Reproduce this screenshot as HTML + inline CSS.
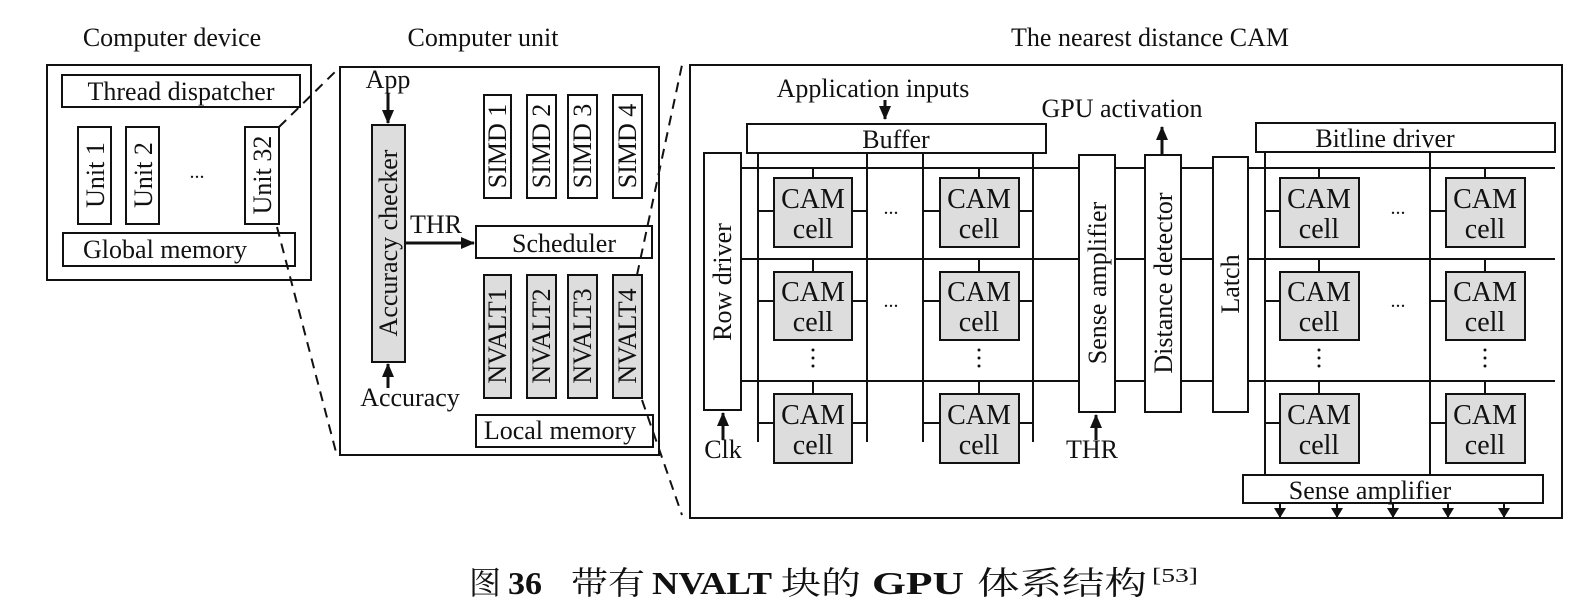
<!DOCTYPE html>
<html><head><meta charset="utf-8"><style>
html,body{margin:0;padding:0;background:#fff;}
svg{display:block;}
text{font-family:"Liberation Serif","Noto Serif CJK SC",serif;fill:#111;}
</style></head><body>
<svg width="1590" height="610" viewBox="0 0 1590 610" xmlns="http://www.w3.org/2000/svg">
<defs>
<marker id="ah" markerWidth="10" markerHeight="12" refX="9" refY="6" orient="auto" markerUnits="userSpaceOnUse"><path d="M0,0 L10,6 L0,12 z" fill="#111"/></marker>
<marker id="ah2" markerWidth="14" markerHeight="14" refX="13" refY="7" orient="auto" markerUnits="userSpaceOnUse"><path d="M0,1 L14,7 L0,13 z" fill="#111"/></marker>
</defs>
<g stroke="#111" stroke-width="2" fill="none">
<rect x="47" y="65" width="264" height="215"/>
<rect x="62" y="75" width="238" height="32"/>
<rect x="78" y="127" width="33" height="97"/>
<rect x="126" y="127" width="33" height="97"/>
<rect x="245" y="127" width="34" height="97"/>
<rect x="63" y="233" width="232" height="33"/>
<line x1="279" y1="127" x2="340" y2="67" stroke-dasharray="10,7"/>
<line x1="277" y1="227" x2="336" y2="452" stroke-dasharray="10,7"/>
<line x1="637" y1="275" x2="682" y2="65" stroke-dasharray="10,7"/>
<line x1="642" y1="400" x2="682" y2="515" stroke-dasharray="10,7"/>
<rect x="340" y="67" width="319" height="388"/>
<rect x="372" y="125" width="33" height="237" fill="#ddd"/>
<rect x="476" y="226" width="176" height="32"/>
<rect x="476" y="415" width="177" height="32"/>
<rect x="484" y="95" width="27" height="103"/>
<rect x="527" y="95" width="29" height="103"/>
<rect x="568" y="95" width="29" height="103"/>
<rect x="613" y="95" width="29" height="103"/>
<rect x="484" y="275" width="27" height="123" fill="#ddd"/>
<rect x="527" y="275" width="29" height="123" fill="#ddd"/>
<rect x="568" y="275" width="29" height="123" fill="#ddd"/>
<rect x="613" y="275" width="29" height="123" fill="#ddd"/>
<line x1="388" y1="93" x2="388" y2="123" marker-end="url(#ah2)" stroke-width="3"/>
<line x1="388" y1="388" x2="388" y2="364" marker-end="url(#ah2)" stroke-width="3"/>
<line x1="405" y1="243" x2="474" y2="243" marker-end="url(#ah2)" stroke-width="3"/>
<rect x="690" y="65" width="872" height="453"/>
<rect x="747" y="124" width="299" height="29"/>
<rect x="704" y="153" width="37" height="257"/>
<rect x="1079" y="155" width="36" height="257"/>
<rect x="1145" y="155" width="36" height="257"/>
<rect x="1213" y="157" width="35" height="255"/>
<rect x="1256" y="123" width="299" height="29"/>
<rect x="1243" y="475" width="300" height="28"/>
<line x1="885" y1="100" x2="885" y2="119" marker-end="url(#ah2)" stroke-width="3"/>
<line x1="723" y1="440" x2="723" y2="413" marker-end="url(#ah2)" stroke-width="3"/>
<line x1="1096" y1="440" x2="1096" y2="415" marker-end="url(#ah2)" stroke-width="3"/>
<line x1="1162" y1="155" x2="1162" y2="127" marker-end="url(#ah2)" stroke-width="3"/>
<g>
<line x1="741" y1="168" x2="1079" y2="168"/><line x1="1115" y1="168" x2="1145" y2="168"/><line x1="1181" y1="168" x2="1213" y2="168"/><line x1="1248" y1="168" x2="1555" y2="168"/>
<line x1="741" y1="259" x2="1079" y2="259"/><line x1="1115" y1="259" x2="1145" y2="259"/><line x1="1181" y1="259" x2="1213" y2="259"/><line x1="1248" y1="259" x2="1555" y2="259"/>
<line x1="741" y1="381" x2="1079" y2="381"/><line x1="1115" y1="381" x2="1145" y2="381"/><line x1="1181" y1="381" x2="1213" y2="381"/><line x1="1248" y1="381" x2="1555" y2="381"/>
</g>
<line x1="758" y1="153" x2="758" y2="442"/><line x1="867" y1="153" x2="867" y2="442"/>
<line x1="923" y1="153" x2="923" y2="442"/><line x1="1033" y1="153" x2="1033" y2="442"/>
<line x1="1265" y1="152" x2="1265" y2="475"/><line x1="1430" y1="152" x2="1430" y2="475"/>
<g fill="#ddd">
<rect x="774" y="178" width="78" height="69"/><rect x="940" y="178" width="79" height="69"/>
<rect x="774" y="272" width="78" height="68"/><rect x="940" y="272" width="79" height="68"/>
<rect x="774" y="394" width="78" height="69"/><rect x="940" y="394" width="79" height="69"/>
<rect x="1280" y="178" width="79" height="69"/><rect x="1446" y="178" width="79" height="69"/>
<rect x="1280" y="272" width="79" height="68"/><rect x="1446" y="272" width="79" height="68"/>
<rect x="1280" y="394" width="79" height="69"/><rect x="1446" y="394" width="79" height="69"/>
</g>
<g>
<line x1="813" y1="168" x2="813" y2="178"/><line x1="979" y1="168" x2="979" y2="178"/>
<line x1="813" y1="259" x2="813" y2="272"/><line x1="979" y1="259" x2="979" y2="272"/>
<line x1="813" y1="381" x2="813" y2="394"/><line x1="979" y1="381" x2="979" y2="394"/>
<line x1="1319" y1="168" x2="1319" y2="178"/><line x1="1485" y1="168" x2="1485" y2="178"/>
<line x1="1319" y1="259" x2="1319" y2="272"/><line x1="1485" y1="259" x2="1485" y2="272"/>
<line x1="1319" y1="381" x2="1319" y2="394"/><line x1="1485" y1="381" x2="1485" y2="394"/>
<line x1="758" y1="211" x2="774" y2="211"/><line x1="852" y1="211" x2="867" y2="211"/>
<line x1="923" y1="211" x2="940" y2="211"/><line x1="1019" y1="211" x2="1033" y2="211"/>
<line x1="758" y1="301" x2="774" y2="301"/><line x1="852" y1="301" x2="867" y2="301"/>
<line x1="923" y1="301" x2="940" y2="301"/><line x1="1019" y1="301" x2="1033" y2="301"/>
<line x1="758" y1="423" x2="774" y2="423"/><line x1="852" y1="423" x2="867" y2="423"/>
<line x1="923" y1="423" x2="940" y2="423"/><line x1="1019" y1="423" x2="1033" y2="423"/>
<line x1="1265" y1="211" x2="1280" y2="211"/><line x1="1430" y1="211" x2="1446" y2="211"/>
<line x1="1265" y1="301" x2="1280" y2="301"/><line x1="1430" y1="301" x2="1446" y2="301"/>
<line x1="1265" y1="423" x2="1280" y2="423"/><line x1="1430" y1="423" x2="1446" y2="423"/>
</g>
<g stroke-width="2">
<line x1="1280" y1="503" x2="1280" y2="517" marker-end="url(#ah)"/>
<line x1="1337" y1="503" x2="1337" y2="517" marker-end="url(#ah)"/>
<line x1="1393" y1="503" x2="1393" y2="517" marker-end="url(#ah)"/>
<line x1="1448" y1="503" x2="1448" y2="517" marker-end="url(#ah)"/>
<line x1="1504" y1="503" x2="1504" y2="517" marker-end="url(#ah)"/>
</g>
</g>
<g font-size="26" text-anchor="middle">
<text x="172" y="46">Computer device</text>
<text x="483" y="46">Computer unit</text>
<text x="1150" y="46">The nearest distance CAM</text>
<text x="181" y="100">Thread dispatcher</text>
<text x="165" y="258">Global memory</text>
<text x="197" y="178" font-size="20">...</text>
<text transform="translate(104,175) rotate(-90)">Unit 1</text>
<text transform="translate(152,175) rotate(-90)">Unit 2</text>
<text transform="translate(271,175) rotate(-90)">Unit 32</text>
<text x="388" y="88">App</text>
<text x="410" y="406">Accuracy</text>
<text x="436" y="233">THR</text>
<text x="564" y="252">Scheduler</text>
<text x="560" y="439">Local memory</text>
<text transform="translate(397,243) rotate(-90)">Accuracy checker</text>
<text transform="translate(506,146) rotate(-90)">SIMD 1</text>
<text transform="translate(550,146) rotate(-90)">SIMD 2</text>
<text transform="translate(591,146) rotate(-90)">SIMD 3</text>
<text transform="translate(636,146) rotate(-90)">SIMD 4</text>
<text transform="translate(506,336) rotate(-90)">NVALT1</text>
<text transform="translate(550,336) rotate(-90)">NVALT2</text>
<text transform="translate(591,336) rotate(-90)">NVALT3</text>
<text transform="translate(636,336) rotate(-90)">NVALT4</text>
<text x="873" y="97">Application inputs</text>
<text x="1122" y="117">GPU activation</text>
<text x="896" y="148">Buffer</text>
<text x="1385" y="147">Bitline  driver</text>
<text x="1370" y="499">Sense amplifier</text>
<text x="723" y="458">Clk</text>
<text x="1092" y="458">THR</text>
<text transform="translate(731,282) rotate(-90)">Row driver</text>
<text transform="translate(1106,283) rotate(-90)">Sense amplifier</text>
<text transform="translate(1172,283) rotate(-90)">Distance detector</text>
<text transform="translate(1239,284) rotate(-90)">Latch</text>
</g>
<g font-size="28" text-anchor="middle">
<text x="813" y="208">CAM</text><text x="813" y="238">cell</text>
<text x="979" y="208">CAM</text><text x="979" y="238">cell</text>
<text x="813" y="301">CAM</text><text x="813" y="331">cell</text>
<text x="979" y="301">CAM</text><text x="979" y="331">cell</text>
<text x="813" y="424">CAM</text><text x="813" y="454">cell</text>
<text x="979" y="424">CAM</text><text x="979" y="454">cell</text>
<text x="1319" y="208">CAM</text><text x="1319" y="238">cell</text>
<text x="1485" y="208">CAM</text><text x="1485" y="238">cell</text>
<text x="1319" y="301">CAM</text><text x="1319" y="331">cell</text>
<text x="1485" y="301">CAM</text><text x="1485" y="331">cell</text>
<text x="1319" y="424">CAM</text><text x="1319" y="454">cell</text>
<text x="1485" y="424">CAM</text><text x="1485" y="454">cell</text>
</g>
<g font-size="20" text-anchor="middle">
<text x="891" y="214">...</text><text x="891" y="307">...</text>
<text x="1398" y="214">...</text><text x="1398" y="307">...</text>
</g>
<g fill="#111">
<circle cx="813" cy="350" r="1.5"/><circle cx="813" cy="358" r="1.5"/><circle cx="813" cy="366" r="1.5"/>
<circle cx="979" cy="350" r="1.5"/><circle cx="979" cy="358" r="1.5"/><circle cx="979" cy="366" r="1.5"/>
<circle cx="1319" cy="350" r="1.5"/><circle cx="1319" cy="358" r="1.5"/><circle cx="1319" cy="366" r="1.5"/>
<circle cx="1485" cy="350" r="1.5"/><circle cx="1485" cy="358" r="1.5"/><circle cx="1485" cy="366" r="1.5"/>
</g>
<g font-size="32">
<text x="469" y="594">图</text>
<text x="508" y="594" font-weight="bold" textLength="34" lengthAdjust="spacingAndGlyphs">36</text>
<text x="571" y="594" textLength="74" lengthAdjust="spacingAndGlyphs">带有</text>
<text x="652" y="594" font-weight="bold" textLength="120" lengthAdjust="spacingAndGlyphs">NVALT</text>
<text x="781" y="594" textLength="80" lengthAdjust="spacingAndGlyphs">块的</text>
<text x="872" y="594" font-weight="bold" textLength="92" lengthAdjust="spacingAndGlyphs">GPU</text>
<text x="977" y="594" textLength="170" lengthAdjust="spacingAndGlyphs">体系结构</text>
<text x="1152" y="582" font-size="20" textLength="46" lengthAdjust="spacingAndGlyphs">[53]</text>
</g>
</svg>
</body></html>
